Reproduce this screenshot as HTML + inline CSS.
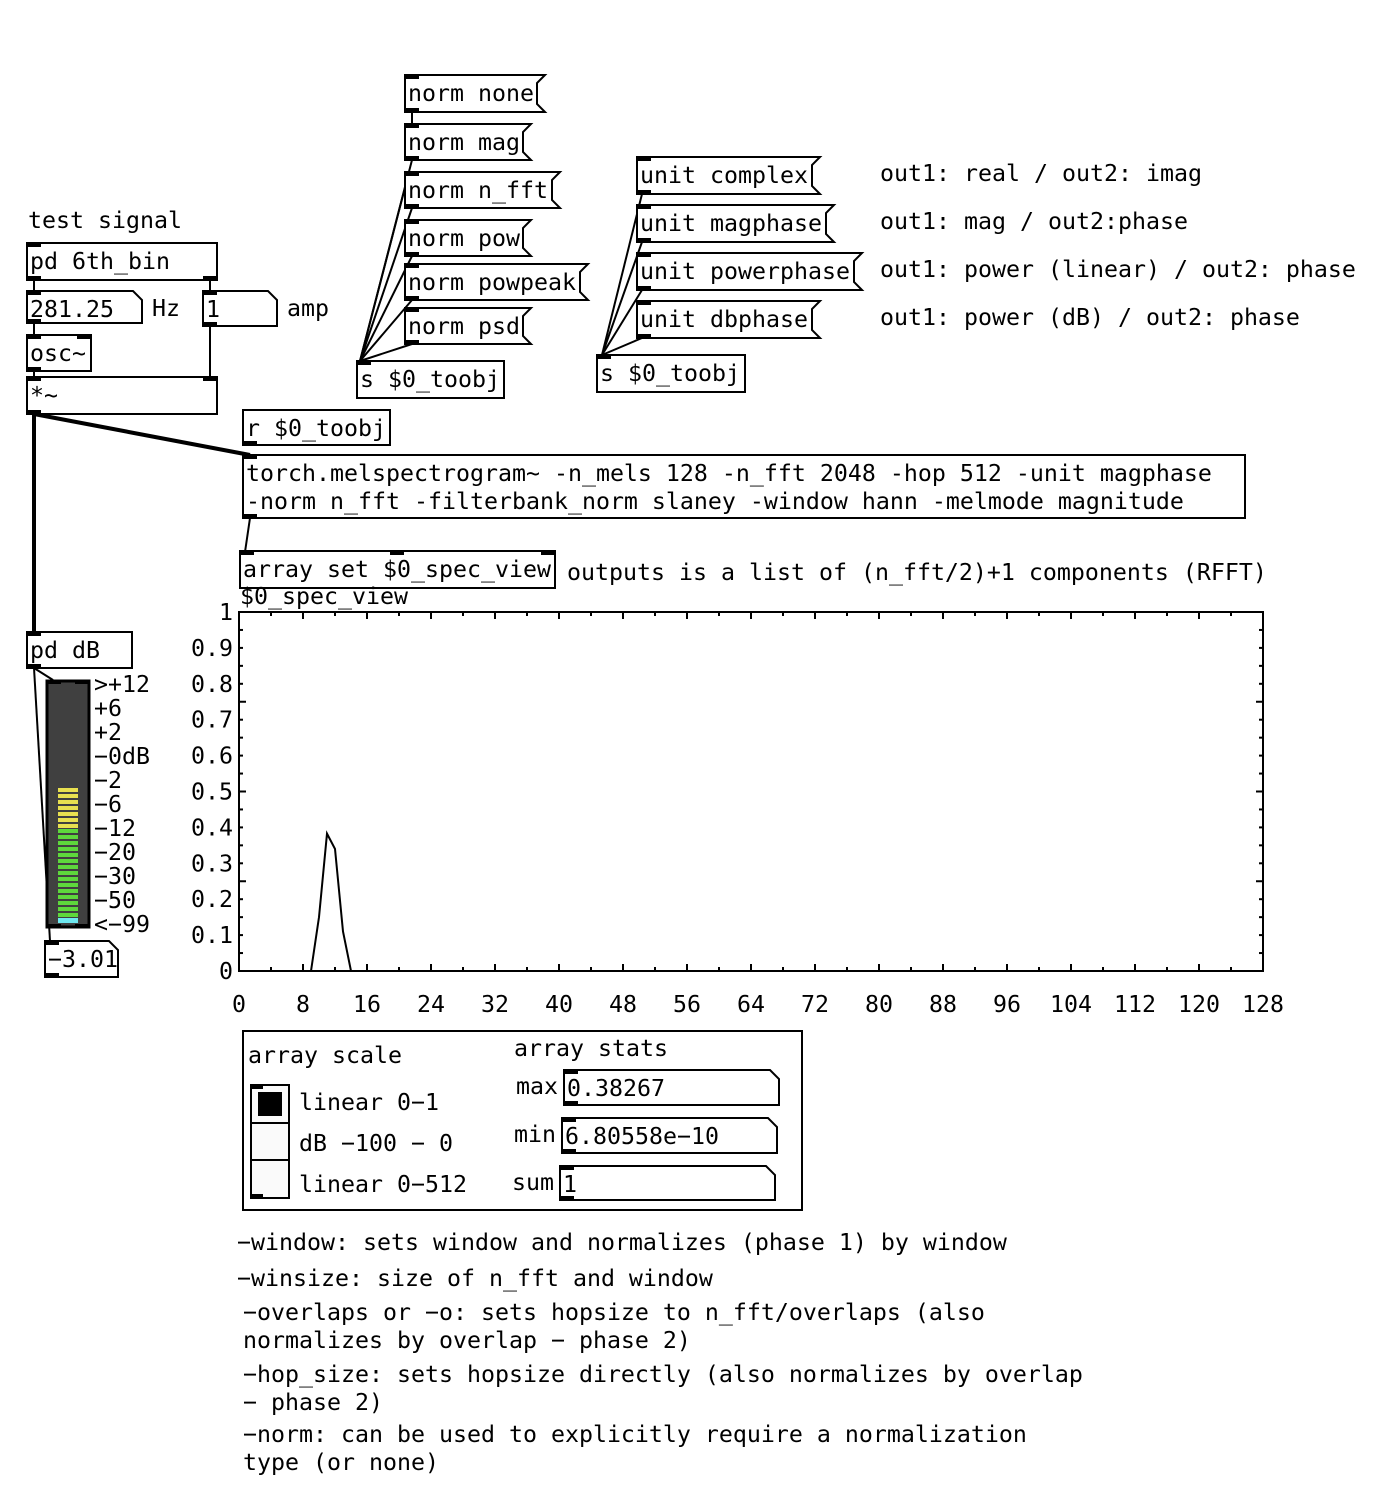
<!DOCTYPE html>
<html><head><meta charset="utf-8"><style>
html,body{margin:0;padding:0;background:#fff;}
svg{display:block;}
text{font-family:"DejaVu Sans Mono","Liberation Mono",monospace;font-size:23.25px;fill:#000;}
</style></head><body>
<svg id="patch" width="1376" height="1496" viewBox="0 0 1376 1496" xmlns="http://www.w3.org/2000/svg">
<g id="wires" stroke="#000" fill="none"></g>
<g id="objs"></g>
<g id="chart"></g>
</svg>
<script>
// ---- chart data ----
const binIndices = [0,1,2,3,4,5,6,7,8,9,10,11,12,13,14,15,16,17,18,19,20,21,22,23,24,25,26,27,28,29,30,31,32,33,34,35,36,37,38,39,40,41,42,43,44,45,46,47,48,49,50,51,52,53,54,55,56,57,58,59,60,61,62,63,64,65,66,67,68,69,70,71,72,73,74,75,76,77,78,79,80,81,82,83,84,85,86,87,88,89,90,91,92,93,94,95,96,97,98,99,100,101,102,103,104,105,106,107,108,109,110,111,112,113,114,115,116,117,118,119,120,121,122,123,124,125,126,127];
const specValues = [0,0,0,0,0,0,0,0,0,0,0.15,0.38267,0.34,0.11,0,0,0,0,0,0,0,0,0,0,0,0,0,0,0,0,0,0,0,0,0,0,0,0,0,0,0,0,0,0,0,0,0,0,0,0,0,0,0,0,0,0,0,0,0,0,0,0,0,0,0,0,0,0,0,0,0,0,0,0,0,0,0,0,0,0,0,0,0,0,0,0,0,0,0,0,0,0,0,0,0,0,0,0,0,0,0,0,0,0,0,0,0,0,0,0,0,0,0,0,0,0,0,0,0,0,0,0,0,0,0,0,0,0];
const xTickLabels = ["0","8","16","24","32","40","48","56","64","72","80","88","96","104","112","120","128"];
const yTickLabels = ["0","0.1","0.2","0.3","0.4","0.5","0.6","0.7","0.8","0.9","1"];

const NS="http://www.w3.org/2000/svg";
function mk(tag,attrs,parent){const e=document.createElementNS(NS,tag);for(const k in attrs)e.setAttribute(k,attrs[k]);parent.appendChild(e);return e;}
const objs=document.getElementById('objs'), wires=document.getElementById('wires'), chart=document.getElementById('chart');

function port(g,x,y,w){mk('rect',{x:x,y:y,width:w||14,height:4,fill:'#000'},g);}
function box(name,kind,x,y,w,h,txt,ins,outs){
  const g=mk('g',{},objs);
  
  
  let pts;
  if(kind==='msg') pts=[[x,y],[x+w+8,y],[x+w,y+8],[x+w,y+h-8],[x+w+8,y+h],[x,y+h]];
  else if(kind==='num') pts=[[x,y],[x+w-9,y],[x+w,y+9],[x+w,y+h],[x,y+h]];
  else pts=[[x,y],[x+w,y],[x+w,y+h],[x,y+h]];
  mk('polygon',{points:pts.map(p=>p.join(',')).join(' '),fill:'#fff',stroke:'#000','stroke-width':2},g);
  (ins||[]).forEach(px=>port(g,x+px,y));
  (outs||[]).forEach(px=>port(g,x+px,y+h-4));
  const lines=txt.split('\n');
  lines.forEach((l,i)=>{const t=mk('text',{x:x+3,y:y+26+i*28},g);t.textContent=l;});
  return g;
}
function label(name,x,y,txt){
  const t=mk('text',{x:x,y:y},objs);
  
  
  t.textContent=txt;return t;
}
function wire(x1,y1,x2,y2,w){mk('line',{x1:x1,y1:y1,x2:x2,y2:y2,'stroke-width':w||2},wires);}

wire(34,280,34,291);wire(34,323,34,335);wire(34,371,34,377);
wire(210,280,210,291);wire(210,326,210,377);
wire(34,414,34,632,4);wire(34,414,250,455,4);
wire(250,518,245,552);
wire(412,112,412,124);
[160,208,256,300,344].forEach(b=>wire(412,b,360,361));
wire(409,172,360,361);
[194,242,290,338].forEach(b=>wire(642,b,602,355));
wire(34,668,53,680);wire(34,668,50,941);

label('test-signal-label',28,228,'test signal');
box('pd-6th-bin','obj',27,243,190,37,'pd 6th_bin',[0],[0,176]);
box('freq-number-box','num',27,291,115,32,'281.25',[0],[0]);
label('hz-label',152,316,'Hz');
box('amp-number-box','num',203,291,74,35,'1',[0],[0]);
label('amp-label',287,316,'amp');
box('osc-object','obj',27,335,64,36,'osc~',[0,50],[0]);
box('multiply-object','obj',27,377,190,37,'*~',[0,176],[0]);
box('receive-toobj','obj',243,410,147,35,'r $0_toobj',[],[0]);
box('torch-melspectrogram','obj',243,455,1002,63,'torch.melspectrogram~ -n_mels 128 -n_fft 2048 -hop 512 -unit magphase\n-norm n_fft -filterbank_norm slaney -window hann -melmode magnitude',[0],[0]);
box('array-set-object','obj',240,551,315,37,'array set $0_spec_view',[0,150,301],[]);
label('rfft-comment',567,580,'outputs is a list of (n_fft/2)+1 components (RFFT)');

box('norm-none-msg','msg',405,75,132,37,'norm none',[0],[0]);
box('norm-mag-msg','msg',405,124,118,36,'norm mag',[0],[0]);
box('norm-nfft-msg','msg',405,172,147,36,'norm n_fft',[0],[0]);
box('norm-pow-msg','msg',405,220,118,36,'norm pow',[0],[0]);
box('norm-powpeak-msg','msg',405,264,175,36,'norm powpeak',[0],[0]);
box('norm-psd-msg','msg',405,308,118,36,'norm psd',[0],[0]);
box('send-toobj-norm','obj',357,361,147,37,'s $0_toobj',[0],[]);

box('unit-complex-msg','msg',637,157,175,37,'unit complex',[0],[0]);
box('unit-magphase-msg','msg',637,205,189,37,'unit magphase',[0],[0]);
box('unit-powerphase-msg','msg',637,253,217,37,'unit powerphase',[0],[0]);
box('unit-dbphase-msg','msg',637,301,175,37,'unit dbphase',[0],[0]);
box('send-toobj-unit','obj',597,355,148,37,'s $0_toobj',[0],[]);
label('complex-comment',880,181,'out1: real / out2: imag');
label('magphase-comment',880,229,'out1: mag / out2:phase');
label('powerphase-comment',880,277,'out1: power (linear) / out2: phase');
label('dbphase-comment',880,325,'out1: power (dB) / out2: phase');

box('pd-db-object','obj',27,632,105,36,'pd dB',[0],[0]);
const vu=mk('g',{},objs);


mk('rect',{x:47,y:681,width:42,height:246,fill:'#404040',stroke:'#000','stroke-width':3},vu);
port(vu,47,680);port(vu,75,680);port(vu,47,924);port(vu,75,924);
for(let yy=788;yy<826;yy+=6) mk('rect',{x:58,y:yy,width:20,height:4,fill:'#e8e050'},vu);
for(let yy=829;yy<915;yy+=6) mk('rect',{x:58,y:yy,width:20,height:4,fill:'#5ed83c'},vu);
mk('rect',{x:58,y:918,width:20,height:5,fill:'#6ee8f0'},vu);
const vuLabels=['>+12','+6','+2','−0dB','−2','−6','−12','−20','−30','−50','<−99'];
vuLabels.forEach((l,i)=>{const t=mk('text',{x:94,y:692+i*24},vu);t.textContent=l;});
box('db-number-box','num',45,941,73,36,'−3.01',[0],[0]);

const gx0=239,gx1=1263,gy0=971,gy1=612,xMax=128,yMax=1;
const sx=v=>gx0+(v/xMax)*(gx1-gx0);
const sy=v=>gy0-(v/yMax)*(gy0-gy1);
const lab=mk('text',{x:240,y:604},chart);lab.textContent='$0_spec_view';

mk('rect',{x:gx0,y:gy1,width:gx1-gx0,height:gy0-gy1,fill:'#fff',stroke:'#000','stroke-width':2},chart);
for(let v=0;v<=xMax;v+=4){const L=(v%8===0)?7:4;
  mk('line',{x1:sx(v),y1:gy0,x2:sx(v),y2:gy0-L,stroke:'#000','stroke-width':2},chart);
  mk('line',{x1:sx(v),y1:gy1,x2:sx(v),y2:gy1+L,stroke:'#000','stroke-width':2},chart);}
for(let i=0;i<=20;i++){const v=i*0.05,L=(i%5===0)?7:4;
  mk('line',{x1:gx0,y1:sy(v),x2:gx0+L,y2:sy(v),stroke:'#000','stroke-width':2},chart);
  mk('line',{x1:gx1,y1:sy(v),x2:gx1-L,y2:sy(v),stroke:'#000','stroke-width':2},chart);}
xTickLabels.forEach(s=>{const t=mk('text',{x:sx(+s),y:1012,'text-anchor':'middle'},chart);t.textContent=s;
  });
yTickLabels.forEach(s=>{const t=mk('text',{x:233,y:sy(+s)+8,'text-anchor':'end'},chart);t.textContent=s;
  });
const pl=mk('polyline',{points:binIndices.map((b,i)=>sx(b)+','+sy(specValues[i])).join(' '),fill:'none',stroke:'#000','stroke-width':2},chart);



const pnl=mk('g',{},objs);


mk('rect',{x:243,y:1031,width:559,height:179,fill:'#fff',stroke:'#000','stroke-width':2},pnl);
label('array-scale-label',248,1063,'array scale');
label('array-stats-label',514,1056,'array stats');
const rad=mk('g',{},objs);


mk('rect',{x:251,y:1085,width:38,height:113,fill:'#fafafa',stroke:'#000','stroke-width':2},rad);
mk('line',{x1:251,y1:1123,x2:289,y2:1123,stroke:'#000','stroke-width':2},rad);
mk('line',{x1:251,y1:1160,x2:289,y2:1160,stroke:'#000','stroke-width':2},rad);
mk('rect',{x:258,y:1092,width:24,height:24,fill:'#000'},rad);
port(rad,251,1085,12);port(rad,251,1194,12);
label('linear-0-1-label',299,1110,'linear 0−1');
label('db-label',299,1151,'dB −100 − 0');
label('linear-0-512-label',299,1192,'linear 0−512');
label('max-label',516,1094,'max');
box('max-number-box','num',564,1070,215,35,'0.38267',[0],[0]);
label('min-label',514,1142,'min');
box('min-number-box','num',562,1118,215,35,'6.80558e−10',[0],[0]);
label('sum-label',512,1190,'sum');
box('sum-number-box','num',560,1166,215,34,'1',[0],[0]);

label('window-comment',237,1250,'−window: sets window and normalizes (phase 1) by window');
label('winsize-comment',237,1286,'−winsize: size of n_fft and window');
label('overlaps-comment-1',243,1320,'−overlaps or −o: sets hopsize to n_fft/overlaps (also');
label('overlaps-comment-2',243,1348,'normalizes by overlap − phase 2)');
label('hopsize-comment-1',243,1382,'−hop_size: sets hopsize directly (also normalizes by overlap');
label('hopsize-comment-2',243,1410,'− phase 2)');
label('norm-comment-1',243,1442,'−norm: can be used to explicitly require a normalization');
label('norm-comment-2',243,1470,'type (or none)');
</script>
</body></html>
